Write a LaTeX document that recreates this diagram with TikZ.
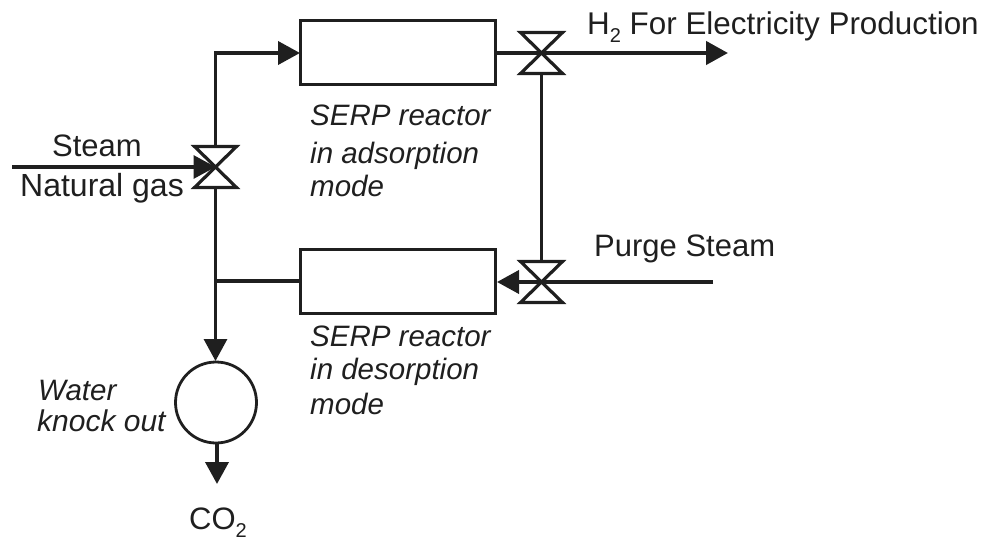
\documentclass[tikz,border=0pt]{standalone}
\usepackage{fontspec}
\setmainfont{Liberation Sans}
\usetikzlibrary{arrows.meta}
\definecolor{ink}{gray}{0.12}
\newcommand{\subtwo}{\raisebox{-8pt}{\fontsize{20}{20}\selectfont 2}}
\tikzset{
 x=1pt,y=-1pt,
 reactor/.style={draw=ink,line width=3pt,minimum width=195pt,minimum height=64pt,inner sep=0pt,outer sep=0pt},
 flow/.style={draw=ink,line width=3.8pt,line join=miter},
 thinflow/.style={draw=ink,line width=3.2pt},
 tip/.style={-{Triangle[length=22pt,width=23pt]}},
 lab/.style={font=\fontsize{31}{36}\selectfont,text=ink,inner sep=0pt,anchor=base west},
 ital/.style={font=\fontsize{29.5}{36}\selectfont\itshape,text=ink,inner sep=0pt,anchor=base west},
 valve/.style={draw=ink,line width=3.2pt,line join=miter}
}
\newcommand{\valvedraw}[2]{\draw[valve] (#1-21,#2-20.5) -- (#1+21,#2-20.5) -- (#1-21,#2+20.5) -- (#1+21,#2+20.5) -- cycle;}
\begin{document}
\begin{tikzpicture}
\useasboundingbox (0,0) rectangle (984,540);
\node[reactor,anchor=north west] (r1) at (300,21) {};
\node[reactor,anchor=north west] (r2) at (300,249) {};
\node[draw=ink,line width=2.8pt,circle,minimum size=81pt,inner sep=0pt,outer sep=0pt] (ko) at (216,402.5) {};
\coordinate (v1) at (215.5,167);
\coordinate (v1t) at (215.5,147);
\coordinate (v1b) at (215.5,187);
\coordinate (v2) at (541.5,53);
\coordinate (v2b) at (541.5,74);
\coordinate (v3) at (541.5,282);
\coordinate (v3t) at (541.5,262);
\coordinate (top) at (215.5,53);
\coordinate (in) at (12,167);
\coordinate (h2) at (728,53);
\coordinate (purge) at (713,282);
\coordinate (mid) at (215.5,281);
\coordinate (koin) at (215.5,361);
\coordinate (koout) at (217,443);
\coordinate (co2) at (217,484);
\coordinate (r2in) at (497,282);
\valvedraw{215.5}{167}
\valvedraw{541.5}{53}
\valvedraw{541.5}{282}
\draw[thinflow,tip] (in) -- (v1);
\draw[flow,tip] (v1t) -- (top) -- (r1.west);
\draw[thinflow] (v1b) -- (mid);
\draw[flow,line width=4.4pt] (r2.west) -- (mid);
\draw[thinflow,tip] (mid) -- (koin);
\draw[flow,tip] (koout) -- (co2);
\draw[flow,line width=4.4pt,tip] (r1.east) -- (h2);
\draw[thinflow] (v2b) -- (v3t);
\draw[thinflow] (purge) -- (v3);
\draw[flow,tip] (v3) -- (r2in);
\node[lab,font=\fontsize{31.4}{36}\selectfont] (t1) at (587,35) {H\subtwo\ For Electricity Production};
\node[lab] (t2) at (52,157) {Steam};
\node[lab,font=\fontsize{32}{36}\selectfont] (t3) at (20,196) {Natural gas};
\node[ital] (t4) at (310,126) {SERP reactor};
\node[ital] (t5) at (310,164) {in adsorption};
\node[ital] (t6) at (310,196) {mode};
\node[lab] (t7) at (594,256) {Purge Steam};
\node[ital] (t8) at (310,346) {SERP reactor};
\node[ital] (t9) at (310,379) {in desorption};
\node[ital] (t10) at (310,414) {mode};
\node[ital] (t11) at (38,400) {Water};
\node[ital,font=\fontsize{30}{36}\selectfont\itshape] (t12) at (37,431) {knock out};
\node[lab] (t13) at (189,529) {CO\subtwo};
\end{tikzpicture}
\end{document}
